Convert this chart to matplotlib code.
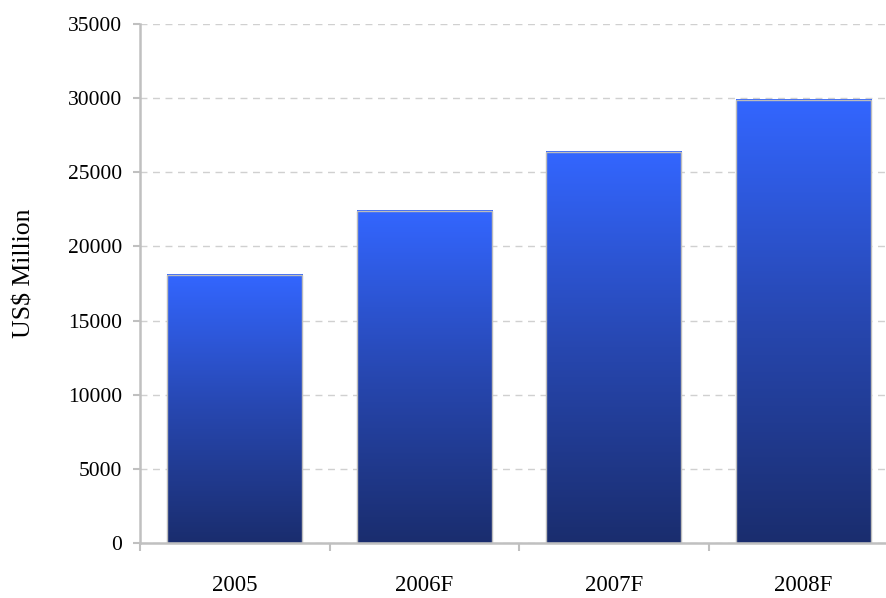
import matplotlib
matplotlib.use("Agg")
import matplotlib.pyplot as plt
import numpy as np
from matplotlib.colors import LinearSegmentedColormap

categories = ["2005", "2006F", "2007F", "2008F"]
values = [18100, 22400, 26400, 29900]
yticks = [0, 5000, 10000, 15000, 20000, 25000, 30000, 35000]

plt.rcParams['font.family'] = ['Liberation Serif', 'DejaVu Serif']

W, H = 887, 598
fig = plt.figure(figsize=(W / 100, H / 100), dpi=100)
ax = fig.add_axes([140 / W, 55 / H, 758 / W, 519 / H])

x = np.arange(len(categories))
bars = ax.bar(x, values, width=0.715, color="none", edgecolor="#bcbcbc", linewidth=1.0, zorder=3)

cmap = LinearSegmentedColormap.from_list("g", ["#1a2d6e", "#2747b0", "#3366ff"])
grad = np.linspace(0, 1, 256).reshape(-1, 1)
for b in bars:
    x0, w, h = b.get_x(), b.get_width(), b.get_height()
    ax.imshow(grad, cmap=cmap, origin="lower", aspect="auto",
              extent=(x0, x0 + w, 0, h), zorder=2, interpolation="bicubic")

ax.set_xlim(-0.5, len(categories) - 0.5)
ax.set_ylim(0, 35000)
ax.set_yticks(yticks)
ax.set_yticklabels([str(v) for v in yticks], fontsize=15.5)

ax.set_xticks(x)
ax.set_xticklabels(categories, fontsize=16.5)
ax.tick_params(axis="x", which="major", length=0, pad=23)
ax.set_xticks(np.arange(len(categories) + 1) - 0.5, minor=True)
ax.tick_params(axis="x", which="minor", length=6, width=1.5, color="#c0c0c0", direction="out")
ax.tick_params(axis="y", length=5, width=1.5, color="#c0c0c0", pad=8)

ax.yaxis.grid(True, linestyle=(0, (5, 4)), color="#d0d0d0", linewidth=1.0, zorder=0)
ax.set_axisbelow(True)

for s in ["top", "right"]:
    ax.spines[s].set_visible(False)
for s in ["left", "bottom"]:
    ax.spines[s].set_color("#c0c0c0")
    ax.spines[s].set_linewidth(1.8)
    ax.spines[s].set_zorder(4)

ax.set_ylabel("US$ Million", fontsize=18.5)
ax.yaxis.set_label_coords(-104 / 758, 0.52)

fig.savefig("out.png", dpi=100)
